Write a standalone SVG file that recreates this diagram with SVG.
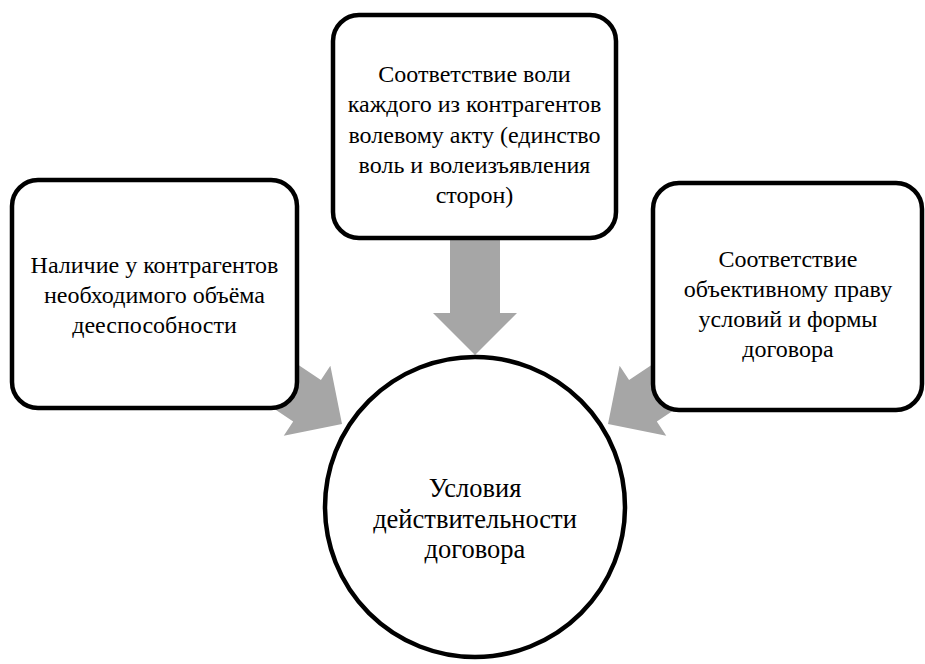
<svg xmlns="http://www.w3.org/2000/svg" width="925" height="664" viewBox="0 0 925 664">
<defs>
<style>
.box{fill:#fff;stroke:#000;stroke-width:4.5}
.arr{fill:#a6a6a6}
.t{font-family:"Liberation Serif","Times New Roman",serif;font-size:24px;fill:#000;text-anchor:middle}
.c{font-size:26.5px}
</style>
<polygon id="arrowShape" class="arr" points="-25,-150 25,-150 25,-42 42,-42 0,0 -42,-42 -25,-42"/>
</defs>
<rect width="925" height="664" fill="#fff"/>
<g id="connectors">
<use href="#arrowShape" transform="translate(475,355)"/>
<use href="#arrowShape" transform="translate(342,424) rotate(-56.3)"/>
<use href="#arrowShape" transform="translate(608,424) rotate(56.3)"/>
</g>
<g id="node-left">
<rect class="box" x="12" y="180" width="285" height="228" rx="26"/>
<text class="t" x="154.5" y="273">Наличие у контрагентов</text>
<text class="t" x="154.5" y="303">необходимого объёма</text>
<text class="t" x="154.5" y="333">дееспособности</text>
</g>
<g id="node-top">
<rect class="box" x="333" y="15" width="283" height="223" rx="26"/>
<text class="t" x="474.5" y="82">Соответствие воли</text>
<text class="t" x="474.5" y="112">каждого из контрагентов</text>
<text class="t" x="474.5" y="143">волевому акту (единство</text>
<text class="t" x="474.5" y="173">воль и волеизъявления</text>
<text class="t" x="474.5" y="203">сторон)</text>
</g>
<g id="node-right">
<rect class="box" x="653" y="183" width="269" height="227" rx="26"/>
<text class="t" x="788" y="267">Соответствие</text>
<text class="t" x="788" y="297">объективному праву</text>
<text class="t" x="788" y="327">условий и формы</text>
<text class="t" x="788" y="357">договора</text>
</g>
<g id="node-center">
<circle class="box" cx="475" cy="507" r="150"/>
<text class="t c" x="475" y="497">Условия</text>
<text class="t c" x="475" y="528">действительности</text>
<text class="t c" x="475" y="558">договора</text>
</g>
</svg>
